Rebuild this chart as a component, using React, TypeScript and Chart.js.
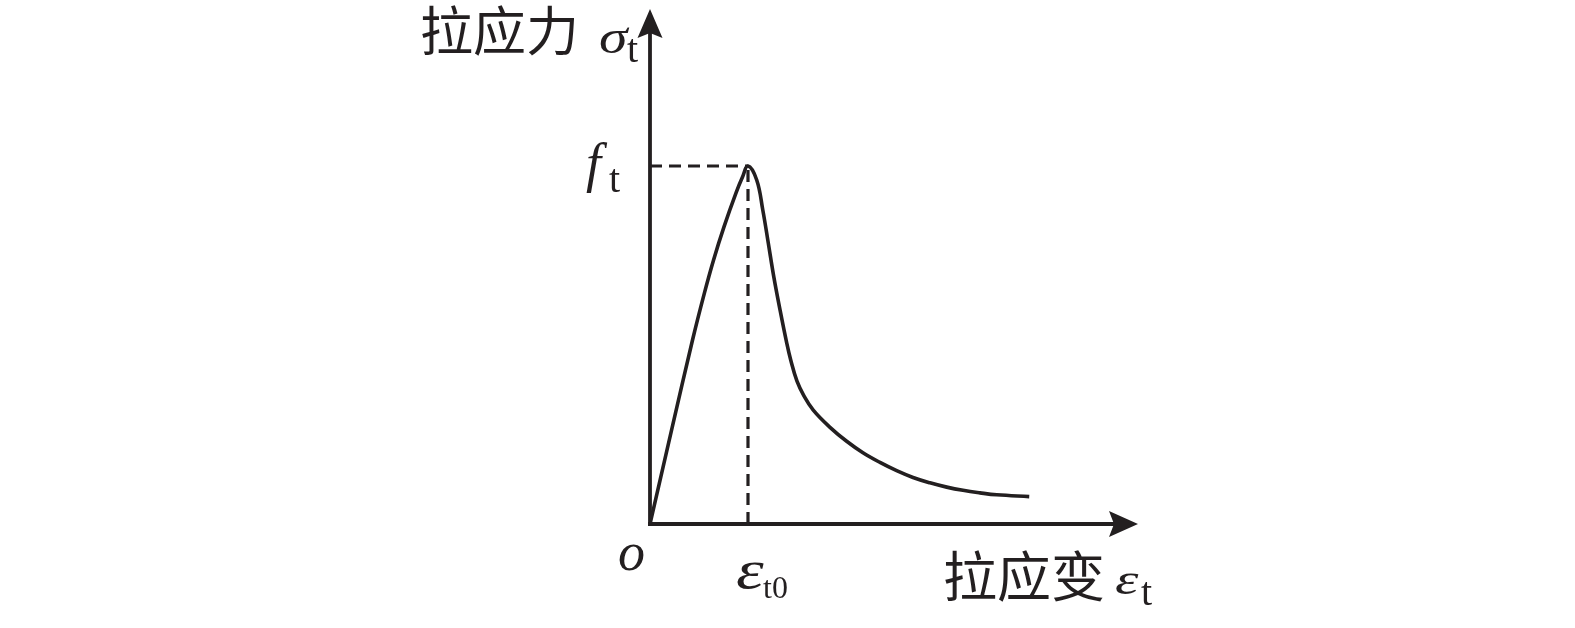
import React, { useEffect, useRef } from "react";
import { Chart, registerables } from "chart.js";

Chart.register(...registerables);

// Tensile strain (in units of ε_t0) and tensile stress (in units of f_t)
const strain = [0, 0.22, 0.434, 0.555, 0.648, 0.755, 0.878, 0.944, 1.0, 1.089, 1.151, 1.207, 1.263, 1.327, 1.395, 1.436, 1.5, 1.571, 1.666, 1.837, 2.007, 2.173, 2.347, 2.517, 2.684, 2.857, 3.028, 3.194, 3.367, 3.538, 3.87];
const stress = [0, 0.262, 0.514, 0.645, 0.737, 0.83, 0.925, 0.969, 1.0, 0.961, 0.877, 0.785, 0.691, 0.598, 0.506, 0.458, 0.399, 0.358, 0.318, 0.27, 0.231, 0.199, 0.172, 0.149, 0.13, 0.115, 0.103, 0.094, 0.087, 0.0815, 0.0765];

const xMax = 4.98;
const yMax = 1.4385;

const yTitleCn = "拉应力";
const yTitleSym = "σ";
const yTitleSub = "t";
const xTitleCn = "拉应变";
const xTitleSym = "ε";
const xTitleSub = "t";
const peakStressSym = "f";
const peakStressSub = "t";
const peakStrainSym = "ε";
const peakStrainSub = "t0";
const originLabel = "o";

const ink = "#231f20";
const serif = '"Liberation Serif", "DejaVu Serif", serif';
const cjk = '"Noto Sans CJK SC", sans-serif';

export default function App() {
  const ref = useRef<HTMLCanvasElement | null>(null);

  useEffect(() => {
    const canvas = ref.current;
    if (!canvas) return;
    let peakI = 0;
    stress.forEach((v, i) => {
      if (v > stress[peakI]) peakI = i;
    });
    const px = strain[peakI];
    const py = stress[peakI];
    const curve = strain.map((x, i) => ({ x, y: stress[i] }));

    const decor = {
      id: "decor",
      beforeDatasetsDraw(chart: any) {
        const { ctx, chartArea } = chart;
        const { left, right, top, bottom } = chartArea;
        ctx.save();
        ctx.strokeStyle = ink;
        ctx.fillStyle = ink;
        ctx.lineWidth = 3.8;
        ctx.setLineDash([]);
        ctx.beginPath();
        ctx.moveTo(left, bottom + 1.9);
        ctx.lineTo(left, top + 24);
        ctx.stroke();
        ctx.beginPath();
        ctx.moveTo(left - 1.9, bottom);
        ctx.lineTo(right - 24, bottom);
        ctx.stroke();
        // arrow heads
        ctx.beginPath();
        ctx.moveTo(left, top);
        ctx.lineTo(left - 12.5, top + 29);
        ctx.lineTo(left, top + 24);
        ctx.lineTo(left + 12.5, top + 29);
        ctx.closePath();
        ctx.fill();
        ctx.beginPath();
        ctx.moveTo(right, bottom);
        ctx.lineTo(right - 29, bottom - 13);
        ctx.lineTo(right - 24, bottom);
        ctx.lineTo(right - 29, bottom + 13);
        ctx.closePath();
        ctx.fill();
        ctx.restore();
      },
      afterDraw(chart: any) {
        const { ctx } = chart;
        ctx.save();
        ctx.fillStyle = ink;
        ctx.textAlign = "left";
        const put = (t: string, font: string, x: number, y: number, base: string = "alphabetic", sx: number = 1) => {
          ctx.save();
          ctx.font = font;
          ctx.textBaseline = base;
          ctx.translate(x, y);
          ctx.scale(sx, 1);
          ctx.fillText(t, 0, 0);
          ctx.restore();
        };
        // y axis title
        put(yTitleCn, `53px ${cjk}`, 420, 31, "middle");
        put(yTitleSym, `italic 48px ${serif}`, 599, 53, "alphabetic", 1.2);
        put(yTitleSub, `40px ${serif}`, 627, 62);
        // peak stress
        put(peakStressSym, `italic 54px ${serif}`, 586, 181);
        put(peakStressSub, `40px ${serif}`, 609, 192);
        // origin
        put(originLabel, `italic 54px ${serif}`, 618, 570);
        // peak strain
        put(peakStrainSym, `italic 54px ${serif}`, 736, 588, "alphabetic", 1.3);
        put(peakStrainSub, `32px ${serif}`, 763, 598);
        // x axis title
        put(xTitleCn, `54px ${cjk}`, 943, 576, "middle");
        put(xTitleSym, `italic 44px ${serif}`, 1115, 594, "alphabetic", 1.35);
        put(xTitleSub, `40px ${serif}`, 1141, 605);
        ctx.restore();
      },
    };

    const chart = new Chart(canvas, {
      type: "scatter",
      data: {
        datasets: [
          {
            data: [
              { x: 0, y: py },
              { x: px, y: py },
            ],
            showLine: true,
            borderColor: ink,
            borderWidth: 3.2,
            borderDash: [12, 7],
            pointRadius: 0,
          },
          {
            data: [
              { x: px, y: 0 },
              { x: px, y: py },
            ],
            showLine: true,
            borderColor: ink,
            borderWidth: 3.2,
            borderDash: [12, 7],
            pointRadius: 0,
          },
          {
            data: curve,
            showLine: true,
            borderColor: ink,
            borderWidth: 3.6,
            pointRadius: 0,
            tension: 0.4,
          },
        ],
      },
      options: {
        responsive: false,
        animation: false,
        devicePixelRatio: 1,
        layout: { padding: { left: 650, right: 437, top: 9, bottom: 104 } },
        plugins: { legend: { display: false }, tooltip: { enabled: false } },
        scales: {
          x: { type: "linear", min: 0, max: xMax, display: false },
          y: { type: "linear", min: 0, max: yMax, display: false },
        },
      },
      plugins: [decor],
    });
    return () => chart.destroy();
  }, []);

  return (
    <div style={{ position: "absolute", left: 0, top: 0, width: 1575, height: 628, background: "#fff" }}>
      <canvas ref={ref} width={1575} height={628} style={{ display: "block" }} />
    </div>
  );
}
